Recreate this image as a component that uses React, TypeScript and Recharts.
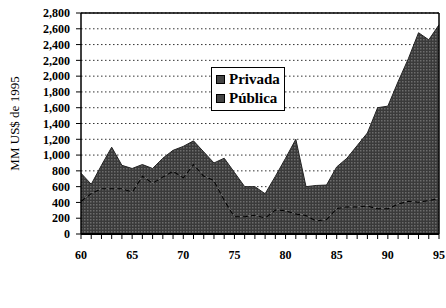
import React from 'react';
import { AreaChart, Area, XAxis, YAxis, CartesianGrid, ReferenceLine, Legend } from 'recharts';

const years = [60, 61, 62, 63, 64, 65, 66, 67, 68, 69, 70, 71, 72, 73, 74, 75, 76, 77, 78, 79, 80, 81, 82, 83, 84, 85, 86, 87, 88, 89, 90, 91, 92, 93, 94, 95];
const publica = [420, 520, 580, 580, 580, 540, 740, 650, 730, 800, 720, 890, 740, 685, 440, 225, 225, 245, 210, 310, 300, 260, 240, 170, 190, 330, 350, 350, 360, 325, 325, 385, 420, 410, 430, 455];
const privada = [350, 110, 290, 520, 290, 290, 140, 180, 230, 260, 390, 290, 300, 215, 520, 555, 375, 355, 300, 420, 660, 940, 360, 445, 430, 520, 610, 770, 920, 1275, 1295, 1545, 1800, 2140, 2030, 2195];
const yTicks = [0, 200, 400, 600, 800, 1000, 1200, 1400, 1600, 1800, 2000, 2200, 2400, 2600, 2800];

const data = years.map((y, i) => ({ year: y, publica: publica[i], privada: privada[i] }));

const font = '"Liberation Serif", "DejaVu Serif", serif';

const XTick = (props: any) => {
  const { x, y, payload } = props;
  if (payload.value % 5 !== 0) return null;
  return (
    <text x={x} y={y} dy="0.71em" textAnchor="middle" fontFamily={font} fontWeight="bold" fontSize={12} fill="#000">
      {payload.value}
    </text>
  );
};

const renderLegend = () => (
  <div style={{ border: '1px solid #000', background: '#fff', padding: '2px 4px', fontFamily: font, fontWeight: 'bold', fontSize: 15, lineHeight: '19px' }}>
    {['Privada', 'Pública'].map((name) => (
      <div key={name} style={{ display: 'flex', alignItems: 'center' }}>
        <span style={{ display: 'inline-block', width: 7, height: 7, background: '#444', border: '1px solid #000', marginRight: 4 }} />
        {name}
      </div>
    ))}
  </div>
);

export default function App() {
  return (
    <div style={{ position: 'absolute', left: 0, top: 0, background: '#fff' }}>
      <AreaChart width={446} height={308} data={data} margin={{ top: 13, right: 7, bottom: 0, left: 0 }}>
        <defs>
          <pattern id="dots" width="3" height="3" patternUnits="userSpaceOnUse">
            <rect width="3" height="3" fill="#3a3a3a" />
            <rect width="1.5" height="1.5" fill="#6c6c6c" />
          </pattern>
        </defs>
        <CartesianGrid horizontal vertical={false} stroke="#333" strokeDasharray="1.5 2.5" />
        <XAxis
          dataKey="year"
          type="number"
          domain={[60, 95]}
          ticks={years}
          interval={0}
          height={30}
          tickSize={5}
          tickMargin={11}
          tick={<XTick />}
          axisLine={{ stroke: '#000', strokeWidth: 2 }}
          tickLine={{ stroke: '#000' }}
        />
        <YAxis
          domain={[0, 2800]}
          ticks={yTicks}
          interval={0}
          width={81}
          tickSize={5}
          tickMargin={6}
          tickFormatter={(v: number) => v.toLocaleString('en-US')}
          tick={{ fontFamily: font, fontWeight: 'bold', fontSize: 12, fill: '#000' }}
          axisLine={{ stroke: '#000', strokeWidth: 1.5 }}
          tickLine={{ stroke: '#000' }}
          label={{ value: 'MM US$ de 1995', angle: -90, position: 'insideLeft', offset: 14, style: { fontFamily: font, fontSize: 13, fill: '#000', textAnchor: 'middle' } }}
        />
        <Legend content={renderLegend} layout="vertical" wrapperStyle={{ left: 211, top: 67, width: 'auto' }} />
        <Area type="linear" dataKey="publica" name="Pública" stackId="1" stroke="#000" strokeWidth={2} strokeDasharray="5 3" fill="url(#dots)" fillOpacity={1} isAnimationActive={false} />
        <Area type="linear" dataKey="privada" name="Privada" stackId="1" stroke="#222" strokeWidth={1} fill="url(#dots)" fillOpacity={1} isAnimationActive={false} />
        <ReferenceLine y={2800} stroke="#000" strokeWidth={1.5} />
        <ReferenceLine x={95} stroke="#000" strokeWidth={1.5} />
      </AreaChart>
    </div>
  );
}
